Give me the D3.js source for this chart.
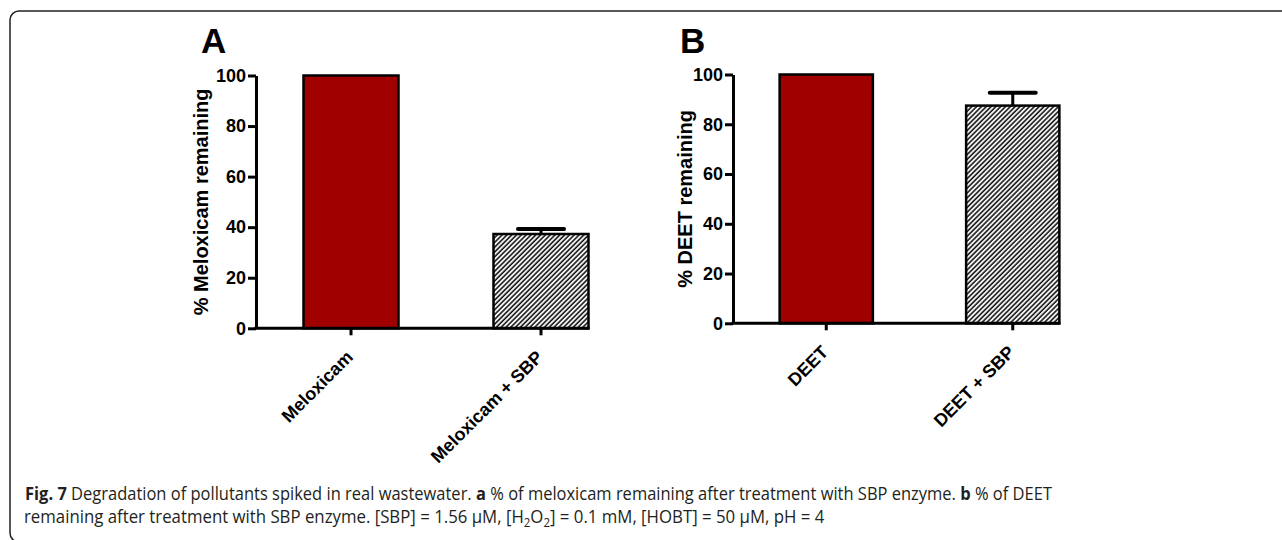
<!DOCTYPE html>
<html>
<head>
<meta charset="utf-8">
<script src="https://cdn.jsdelivr.net/npm/d3@7"></script>
<style>
  body { margin: 0; background: #fff; }
  svg { display: block; }
  .axis text { font-family: "Liberation Sans", Arial, sans-serif; font-weight: bold; font-size: 18px; fill: #000; }
  .axis path, .axis line { stroke: #000; stroke-width: 3; }
</style>
</head>
<body>
<svg></svg>
<script>
// data
const categoriesA = ['Meloxicam', 'Meloxicam + SBP'];
const valuesA = [100, 37.3];
const errorsA = [0, 2.0];

const categoriesB = ['DEET', 'DEET + SBP'];
const valuesB = [100, 87.5];
const errorsB = [0, 5.2];

const yTicks = [0, 20, 40, 60, 80, 100];

const size = {w: 1282, h: 540};
const svg = d3.select('svg')
    .attr('width', size.w)
    .attr('height', size.h);

// hatch pattern for the "+ SBP" bars
const defs = svg.append('defs');
defs.append('pattern')
    .attr('id', 'hatch')
    .attr('patternUnits', 'userSpaceOnUse')
    .attr('width', 3.4)
    .attr('height', 3.4)
    .attr('patternTransform', 'rotate(45)')
    .call(p => {
        p.append('rect').attr('width', 3.4).attr('height', 3.4).attr('fill', '#fff');
        p.append('line')
            .attr('x1', 1).attr('y1', 0)
            .attr('x2', 1).attr('y2', 3.4)
            .attr('stroke', '#111')
            .attr('stroke-width', 1.6);
    });

// frame round the figure
svg.append('rect')
    .attr('x', 10).attr('y', 11)
    .attr('width', 1300).attr('height', 531)
    .attr('rx', 9)
    .attr('fill', 'none')
    .attr('stroke', '#222')
    .attr('stroke-width', 1.5);

drawPanel({
    letter: 'A', letterX: 201,
    axisX: 256, y0: 328.3, y100: 75.5, step: 190,
    title: '% Meloxicam remaining', titleX: 208
}, categoriesA, valuesA, errorsA);

drawPanel({
    letter: 'B', letterX: 680,
    axisX: 733, y0: 323.3, y100: 74.5, step: 186.5,
    title: '% DEET remaining', titleX: 692
}, categoriesB, valuesB, errorsB);

function drawPanel (opt, cats, vals, errs) {
    let g = svg.append('g');

    let x = d3.scaleBand()
        .domain(cats)
        .range([opt.axisX, opt.axisX + opt.step * 2])
        .paddingInner(0.5)
        .paddingOuter(0.25);

    let y = d3.scaleLinear()
        .domain([0, 100])
        .range([opt.y0, opt.y100]);

    // bars
    g.selectAll('rect.bar')
        .data(cats)
        .enter()
        .append('rect')
        .classed('bar', true)
        .attr('x', d => x(d))
        .attr('y', (d, i) => y(vals[i]))
        .attr('width', x.bandwidth())
        .attr('height', (d, i) => y(0) - y(vals[i]))
        .attr('fill', (d, i) => i === 0 ? '#a00000' : 'url(#hatch)')
        .attr('stroke', '#000')
        .attr('stroke-width', 2.5);

    // error bars (upper only)
    let eb = g.selectAll('g.err')
        .data(cats.filter((d, i) => errs[i] > 0))
        .enter()
        .append('g')
        .classed('err', true);
    eb.append('line')
        .attr('x1', d => x(d) + x.bandwidth() / 2)
        .attr('x2', d => x(d) + x.bandwidth() / 2)
        .attr('y1', d => y(vals[cats.indexOf(d)]))
        .attr('y2', d => { let i = cats.indexOf(d); return y(vals[i] + errs[i]); })
        .attr('stroke', '#000')
        .attr('stroke-width', 3);
    eb.append('line')
        .attr('x1', d => x(d) + x.bandwidth() / 2 - 23)
        .attr('x2', d => x(d) + x.bandwidth() / 2 + 23)
        .attr('y1', d => { let i = cats.indexOf(d); return y(vals[i] + errs[i]); })
        .attr('y2', d => { let i = cats.indexOf(d); return y(vals[i] + errs[i]); })
        .attr('stroke', '#000')
        .attr('stroke-width', 4)
        .attr('stroke-linecap', 'round');

    // y axis
    g.append('g')
        .classed('axis', true)
        .attr('transform', 'translate(' + opt.axisX + ',0)')
        .call(d3.axisLeft(y).tickValues(yTicks).tickSize(8).tickSizeOuter(0).tickPadding(2));

    // x axis
    let last = cats[cats.length - 1];
    let xa = g.append('g')
        .classed('axis', true)
        .attr('transform', 'translate(0,' + opt.y0 + ')')
        .call(d3.axisBottom(x).tickSize(7).tickSizeOuter(0));
    xa.select('.domain').remove();
    xa.append('line')
        .attr('x1', opt.axisX - 1.5)
        .attr('x2', x(last) + x.bandwidth() + 1)
        .attr('y1', 0).attr('y2', 0);
    xa.selectAll('.tick text')
        .attr('text-anchor', 'end')
        .attr('dy', null)
        .attr('y', null)
        .attr('transform', 'translate(3,30) rotate(-45)');

    // y title
    g.append('text')
        .attr('transform', 'translate(' + opt.titleX + ',' + (opt.y0 + opt.y100) / 2 + ') rotate(-90)')
        .attr('text-anchor', 'middle')
        .style('font-family', '"Liberation Sans", Arial, sans-serif')
        .style('font-weight', 'bold')
        .style('font-size', '20px')
        .text(opt.title);

    // panel letter
    g.append('text')
        .attr('x', opt.letterX)
        .attr('y', 53)
        .style('font-family', '"Liberation Sans", Arial, sans-serif')
        .style('font-weight', 'bold')
        .style('font-size', '35px')
        .text(opt.letter);
}

// caption: squeeze each line horizontally to the width seen in the figure
const cap = svg.append('g')
    .style('font-family', '"Open Sans", sans-serif')
    .style('font-size', '17.5px')
    .style('fill', '#231f20');

function fitLine (t, x0, y0, targetW) {
    let w = t.node().getComputedTextLength();
    t.attr('transform', 'translate(' + x0 + ',' + y0 + ') scale(' + (targetW / w) + ',1)');
}

let l1 = cap.append('text');
l1.append('tspan').style('font-weight', 'bold').text('Fig. 7');
l1.append('tspan').text(' Degradation of pollutants spiked in real wastewater. ');
l1.append('tspan').style('font-weight', 'bold').text('a');
l1.append('tspan').text(' % of meloxicam remaining after treatment with SBP enzyme. ');
l1.append('tspan').style('font-weight', 'bold').text('b');
l1.append('tspan').text(' % of DEET');
fitLine(l1, 25, 500, 1027);

let l2 = cap.append('text');
l2.append('tspan').text('remaining after treatment with SBP enzyme. [SBP] = 1.56 \u00b5M, [H');
l2.append('tspan').style('font-size', '12px').attr('dy', 4).text('2');
l2.append('tspan').attr('dy', -4).text('O');
l2.append('tspan').style('font-size', '12px').attr('dy', 4).text('2');
l2.append('tspan').attr('dy', -4).text('] = 0.1 mM, [HOBT] = 50 \u00b5M, pH = 4');
fitLine(l2, 24, 523, 801);
</script>
</body>
</html>
